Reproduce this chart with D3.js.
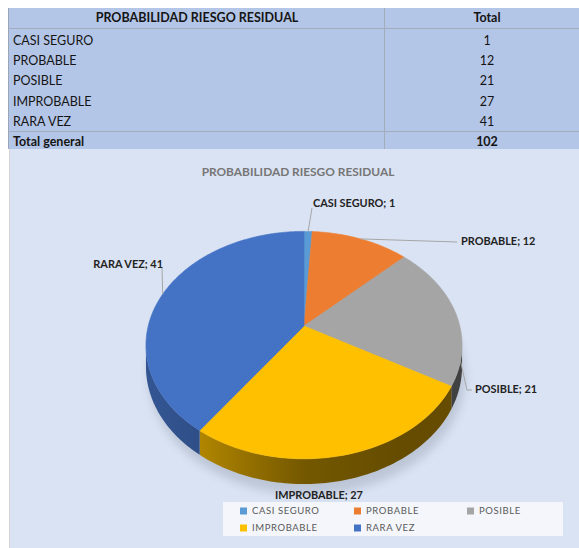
<!DOCTYPE html>
<html><head><meta charset="utf-8">
<script src="https://cdn.jsdelivr.net/npm/d3@7"></script>
<style>html,body{margin:0;padding:0;background:#fff;} svg{display:block;}</style>
</head><body><svg id="c" width="579" height="548"></svg>
<script>
// ---------- data ----------
const categories = ["CASI SEGURO", "PROBABLE", "POSIBLE", "IMPROBABLE", "RARA VEZ"];
const values = [1, 12, 21, 27, 41];
const colors = ["#5b9bd5", "#ed7d31", "#a5a5a5", "#ffc000", "#4472c4"];
const tableHeader = ["PROBABILIDAD RIESGO RESIDUAL", "Total"];
const totalLabel = "Total general";
const chartTitle = "PROBABILIDAD RIESGO RESIDUAL";

const FONT = "Lato, 'Open Sans', sans-serif";
const svg = d3.select("#c");
const total = d3.sum(values);

// ---------- table ----------
const tbl = svg.append("g");
tbl.append("rect").attr("x", 8).attr("y", 8).attr("width", 571).attr("height", 141).attr("fill", "#b4c6e7");
tbl.append("line").attr("x1", 8.5).attr("x2", 8.5).attr("y1", 8).attr("y2", 149).attr("stroke", "#9aa6b8");
tbl.append("line").attr("x1", 384.5).attr("x2", 384.5).attr("y1", 8).attr("y2", 149).attr("stroke", "#a3acba");
tbl.append("line").attr("x1", 8).attr("x2", 579).attr("y1", 28.5).attr("y2", 28.5).attr("stroke", "#a3acba");
tbl.append("line").attr("x1", 8).attr("x2", 579).attr("y1", 131.5).attr("y2", 131.5).attr("stroke", "#a3acba");

const rowKeys = categories.concat([totalLabel]);
const rowY = d3.scaleBand().domain(rowKeys).range([30, 152]);
const col1 = 197, col2 = 487, TFS = 12.5;
tbl.append("text").attr("x", col1).attr("y", 18).attr("dy", "0.35em").attr("text-anchor", "middle")
  .attr("font-family", FONT).attr("font-weight", "bold").attr("font-size", TFS).attr("fill", "#141414").text(tableHeader[0]);
tbl.append("text").attr("x", col2).attr("y", 18).attr("dy", "0.35em").attr("text-anchor", "middle")
  .attr("font-family", FONT).attr("font-weight", "bold").attr("font-size", TFS).attr("fill", "#141414").text(tableHeader[1]);
const rows = categories.map((c, i) => ({label: c, value: values[i], bold: false}))
  .concat([{label: totalLabel, value: total, bold: true}]);
rows.forEach(r => {
  const y = rowY(r.label) + rowY.bandwidth() / 2;
  tbl.append("text").attr("x", 13).attr("y", y).attr("dy", "0.35em")
    .attr("font-family", FONT).attr("font-weight", r.bold ? "bold" : "normal").attr("font-size", TFS).attr("fill", "#141414").text(r.label);
  tbl.append("text").attr("x", col2).attr("y", y).attr("dy", "0.35em").attr("text-anchor", "middle")
    .attr("font-family", FONT).attr("font-weight", r.bold ? "bold" : "normal").attr("font-size", TFS).attr("fill", "#141414").text(r.value);
});

// ---------- chart area ----------
svg.append("rect").attr("x", 9).attr("y", 149).attr("width", 1).attr("height", 399).attr("fill", "#d4d4d4");
svg.append("rect").attr("x", 10).attr("y", 149).attr("width", 569).attr("height", 399).attr("fill", "#dae3f3");

svg.append("text").attr("x", 298).attr("y", 172).attr("dy", "0.35em").attr("text-anchor", "middle")
  .attr("font-family", FONT).attr("font-weight", "bold").attr("font-size", 11.9).attr("fill", "#767676")
  .text(chartTitle);

// ---------- 3D pie via perspective projection ----------
const cx = 304, cy = 326, A = 155.8, B = 110.5, K = 0.168, D = 21;
function proj(theta, z) {
  const u = Math.sin(theta), v = Math.cos(theta), w = 1 + K * v;
  return [cx + A * u / w, cy - B * v / w + z * D / w];
}
const pie = d3.pie().sort(null).value(d => d.value).startAngle(0).endAngle(2 * Math.PI);
const arcs = pie(categories.map((c, i) => ({cat: c, value: values[i], color: colors[i]})));
const line = d3.line();
function arcPts(a0, a1, z) {
  const n = Math.max(2, Math.ceil((a1 - a0) / 0.02));
  return d3.range(n + 1).map(i => proj(a0 + (a1 - a0) * i / n, z));
}

// shadow
const defs = svg.append("defs");
const blur = defs.append("filter").attr("id", "blur").attr("x", "-20%").attr("y", "-20%").attr("width", "140%").attr("height", "140%");
blur.append("feGaussianBlur").attr("stdDeviation", 5);
svg.append("path").attr("d", line(arcPts(0, 2 * Math.PI, 1.35).map(p => [p[0] + 3, p[1] + 2])) + "Z")
  .attr("fill", "#9aa3b3").attr("opacity", 0.45).attr("filter", "url(#blur)");

const thR = Math.acos(-K), thL = 2 * Math.PI - Math.acos(-K);
const gpie = svg.append("g");
arcs.forEach((a, i) => {
  const s0 = Math.max(a.startAngle, thR), s1 = Math.min(a.endAngle, thL);
  if (s1 > s0) {
    const gid = "side" + i;
    const base = d3.color(a.data.color);
    const g = defs.append("linearGradient").attr("id", gid).attr("gradientUnits", "userSpaceOnUse")
      .attr("x1", cx - A * 1.02).attr("x2", cx + A * 1.02).attr("y1", 0).attr("y2", 0);
    [[0, 0.8], [0.18, 1.05], [0.5, 2.2], [0.8, 2.6], [1, 2.6]].forEach(s =>
      g.append("stop").attr("offset", s[0]).attr("stop-color", base.darker(s[1]).formatHex()));
    const top = arcPts(s0, s1, 0), bot = arcPts(s0, s1, 1).reverse();
    gpie.append("path").attr("d", line(top.concat(bot)) + "Z").attr("fill", `url(#${gid})`);
  }
});
arcs.forEach(a => {
  const pts = [[cx, cy]].concat(arcPts(a.startAngle, a.endAngle, 0));
  gpie.append("path").attr("d", line(pts) + "Z").attr("fill", a.data.color)
    .attr("stroke", a.data.color).attr("stroke-width", 0.6);
});

// ---------- data labels ----------
const labelLayout = {
  "CASI SEGURO": {x: 313, y: 203, anchor: "start", leader: [[312, 208]]},
  "PROBABLE":    {x: 461, y: 241, anchor: "start", leader: [[457, 242]]},
  "POSIBLE":     {x: 475, y: 389, anchor: "start", leader: [[467, 390], [472, 390]], from: [460, 359]},
  "IMPROBABLE":  {x: 319, y: 495, anchor: "middle", leader: null},
  "RARA VEZ":    {x: 163, y: 264, anchor: "end", leader: [[162, 268]]}
};
arcs.forEach(a => {
  const L = labelLayout[a.data.cat];
  const mid = (a.startAngle + a.endAngle) / 2;
  if (L.leader) {
    const start = L.from || proj(mid, 0);
    svg.append("path").attr("d", line([start].concat(L.leader))).attr("fill", "none")
      .attr("stroke", "#a6a6a6").attr("stroke-width", 1);
  }
  svg.append("text").attr("x", L.x).attr("y", L.y).attr("dy", "0.35em").attr("text-anchor", L.anchor)
    .attr("font-family", FONT).attr("font-weight", "bold").attr("font-size", 10.9).attr("fill", "#222222")
    .text(`${a.data.cat}; ${a.data.value}`);
});

// ---------- legend ----------
svg.append("rect").attr("x", 223).attr("y", 502).attr("width", 340).attr("height", 34).attr("fill", "#f4f6fb");
const legCol = [243, 357, 470], legRow = [511, 528];
categories.forEach((c, i) => {
  const x = legCol[i % 3], y = legRow[Math.floor(i / 3)];
  svg.append("rect").attr("x", x - 3).attr("y", y - 3.5).attr("width", 7).attr("height", 7).attr("fill", colors[i]);
  svg.append("text").attr("x", x + 9).attr("y", y).attr("dy", "0.35em").attr("font-family", FONT)
    .attr("font-size", 9.5).attr("letter-spacing", 0.6).attr("fill", "#595959").text(c);
});
</script>
</body></html>
